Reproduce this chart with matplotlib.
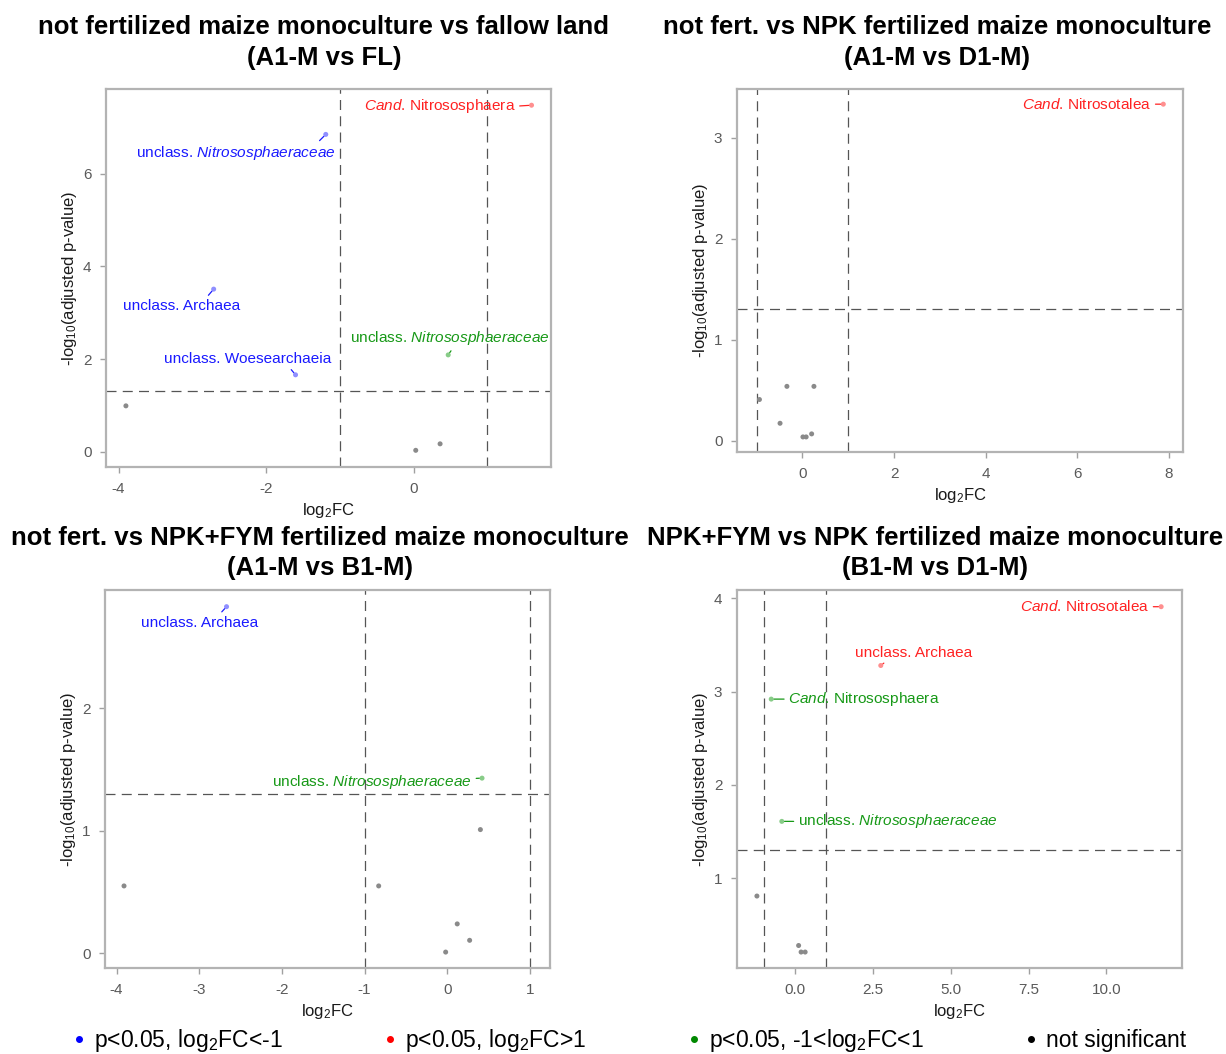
import matplotlib
matplotlib.use('Agg')
import matplotlib.pyplot as plt
from matplotlib.lines import Line2D
import numpy as np

plt.rcParams['font.family'] = ['Liberation Sans', 'DejaVu Sans']
plt.rcParams['mathtext.fontset'] = 'custom'
plt.rcParams['mathtext.rm'] = 'Liberation Sans'
plt.rcParams['mathtext.it'] = 'Liberation Sans:italic'
plt.rcParams['mathtext.bf'] = 'Liberation Sans:bold'
plt.rcParams['axes.unicode_minus'] = False

CAND_NS = r'$\mathit{Cand}$. Nitrososphaera'
CAND_NT = r'$\mathit{Cand}$. Nitrosotalea'
UNC_NSA = r'unclass. $\mathit{Nitrososphaeraceae}$'

# A1-M vs FL
fl_fc = [1.60, -1.19, -2.71, -1.60, 0.47, -3.90, 0.03, 0.36]
fl_p = [7.48, 6.85, 3.51, 1.66, 2.09, 0.99, 0.03, 0.17]
fl_lab = [CAND_NS, UNC_NSA, 'unclass. Archaea', 'unclass. Woesearchaeia', UNC_NSA, '', '', '']

# A1-M vs D1-M
d1_fc = [7.88, -0.94, -0.34, 0.25, -0.49, 0.01, 0.08, 0.20]
d1_p = [3.33, 0.41, 0.54, 0.54, 0.175, 0.04, 0.04, 0.07]
d1_lab = [CAND_NT, '', '', '', '', '', '', '']

# A1-M vs B1-M
b1_fc = [-2.67, 0.42, -3.91, -0.83, 0.40, 0.12, 0.27, -0.02]
b1_p = [2.83, 1.43, 0.55, 0.55, 1.01, 0.24, 0.106, 0.01]
b1_lab = ['unclass. Archaea', UNC_NSA, '', '', '', '', '', '']

# B1-M vs D1-M
bd_fc = [11.76, 2.75, -0.77, -0.43, -1.23, 0.11, 0.19, 0.32]
bd_p = [3.91, 3.28, 2.92, 1.61, 0.81, 0.28, 0.21, 0.21]
bd_lab = [CAND_NT, 'unclass. Archaea', CAND_NS, UNC_NSA, '', '', '', '']

titles = ['not fertilized maize monoculture vs fallow land\n(A1-M vs FL)',
          'not fert. vs NPK fertilized maize monoculture\n(A1-M vs D1-M)',
          'not fert. vs NPK+FYM fertilized maize monoculture\n(A1-M vs B1-M)',
          'NPK+FYM vs NPK fertilized maize monoculture\n(B1-M vs D1-M)']

legend_labels = [r'p<0.05, log$_2$FC<-1', r'p<0.05, log$_2$FC>1',
                 r'p<0.05, -1<log$_2$FC<1', 'not significant']

# label placement: offset in pixels from the point, alignment, connector anchor
fl_pos = [(-16, -1, 'right', (1, 0.5)), (10, -19, 'right', (0.9, 1)),
          (-32, -17, 'center', (0.7, 1)), (36, 16, 'right', (0.74, 0)),
          (1.5, 17, 'center', (0.52, 0))]
d1_pos = [(-12, 0, 'right', (1, 0.5))]
b1_pos = [(-27, -16, 'center', (0.66, 1)), (-10, -4, 'right', (1, 0.7))]
bd_pos = [(-12, 0, 'right', (1, 0.5)), (33, 13, 'center', (0.3, 0.1)),
          (17, 0, 'left', (0, 0.5)), (16, 0, 'left', (0, 0.5))]

pt_col = {'down': '#8f8fff', 'up': '#ff8f8f', 'mid': '#88cc88', 'ns': '#8a8a8a'}
txt_col = {'down': '#1a1aff', 'up': '#ff2222', 'mid': '#179917', 'ns': '#333333'}
leg_col = ['#0000ff', '#ff0000', '#008800', '#000000']

W, H = 1226, 1054
fig = plt.figure(figsize=(W / 100, H / 100), dpi=100)


def frac(l, t, r, b):
    return [l / W, 1 - b / H, (r - l) / W, (b - t) / H]


boxes = [frac(106, 89, 551, 467), frac(737, 89, 1183, 452),
         frac(105, 590, 550, 968), frac(737, 590, 1182, 968)]
xlims = [(-4.17, 1.864), (-1.43, 8.31), (-4.14, 1.242), (-1.87, 12.43)]
ylims = [(-0.33, 7.83), (-0.109, 3.48), (-0.12, 2.966), (0.039, 4.089)]
xticks = [[-4, -2, 0], [0, 2, 4, 6, 8], [-4, -3, -2, -1, 0, 1], [0, 2.5, 5, 7.5, 10]]
xtl = [None, None, None, ['0.0', '2.5', '5.0', '7.5', '10.0']]
yticks = [[0, 2, 4, 6], [0, 1, 2, 3], [0, 1, 2], [1, 2, 3, 4]]
title_xy = [(324, 42.5), (937, 42.5), (320, 553), (935, 553)]

panels = [(fl_fc, fl_p, fl_lab, fl_pos), (d1_fc, d1_p, d1_lab, d1_pos),
          (b1_fc, b1_p, b1_lab, b1_pos), (bd_fc, bd_p, bd_lab, bd_pos)]


def group(fc, p):
    if p < -np.log10(0.05):
        return 'ns'
    if fc < -1:
        return 'down'
    if fc > 1:
        return 'up'
    return 'mid'


for k, (fc, p, lab, pos) in enumerate(panels):
    ax = fig.add_axes(boxes[k])
    grp = [group(a, b) for a, b in zip(fc, p)]
    ax.axhline(-np.log10(0.05), color='#555555', lw=0.9, ls=(0, (8, 5)), zorder=1)
    ax.axvline(-1, color='#555555', lw=0.9, ls=(0, (8, 5)), zorder=1)
    ax.axvline(1, color='#555555', lw=0.9, ls=(0, (8, 5)), zorder=1)
    ax.scatter(fc, p, s=13, c=[pt_col[g] for g in grp], linewidths=0, zorder=3)
    j = 0
    for x, y, t, g in zip(fc, p, lab, grp):
        if not t:
            continue
        dx, dy, ha, rp = pos[j]
        j += 1
        ax.annotate(t, (x, y), xytext=(dx, dy), textcoords='offset pixels',
                    ha=ha, va='center', fontsize=11.1, color=txt_col[g],
                    arrowprops=dict(arrowstyle='-', color=txt_col[g], lw=0.9,
                                    relpos=rp, shrinkA=1, shrinkB=2),
                    zorder=4)
    ax.set_xlim(*xlims[k])
    ax.set_ylim(*ylims[k])
    ax.set_xticks(xticks[k])
    if xtl[k]:
        ax.set_xticklabels(xtl[k])
    ax.set_yticks(yticks[k])
    for s in ax.spines.values():
        s.set_color('#b3b3b3')
        s.set_linewidth(1.6)
    ax.tick_params(colors='#a0a0a0', labelcolor='#5a5a5a', labelsize=11,
                   length=4.5, width=1, pad=6)
    ax.set_xlabel(r'log$_2$FC', fontsize=12, color='#1a1a1a', labelpad=4)
    ax.set_ylabel(r'-log$_{10}$(adjusted p-value)', fontsize=12,
                  color='#1a1a1a', labelpad=3)
    tx, ty = title_xy[k]
    fig.text(tx / W, 1 - ty / H, titles[k], ha='center', va='center',
             fontsize=18.5, fontweight='bold', linespacing=1.35)

handles = [Line2D([], [], ls='', marker='o', markersize=4, color=c) for c in leg_col]
fig.legend(handles, legend_labels, loc='center', bbox_to_anchor=(0.5135, 1 - 1041 / H),
           ncol=4, frameon=False, fontsize=16.5, handlelength=0.5,
           handletextpad=0.4, columnspacing=4.45)

fig.savefig('out.png', dpi=100)
